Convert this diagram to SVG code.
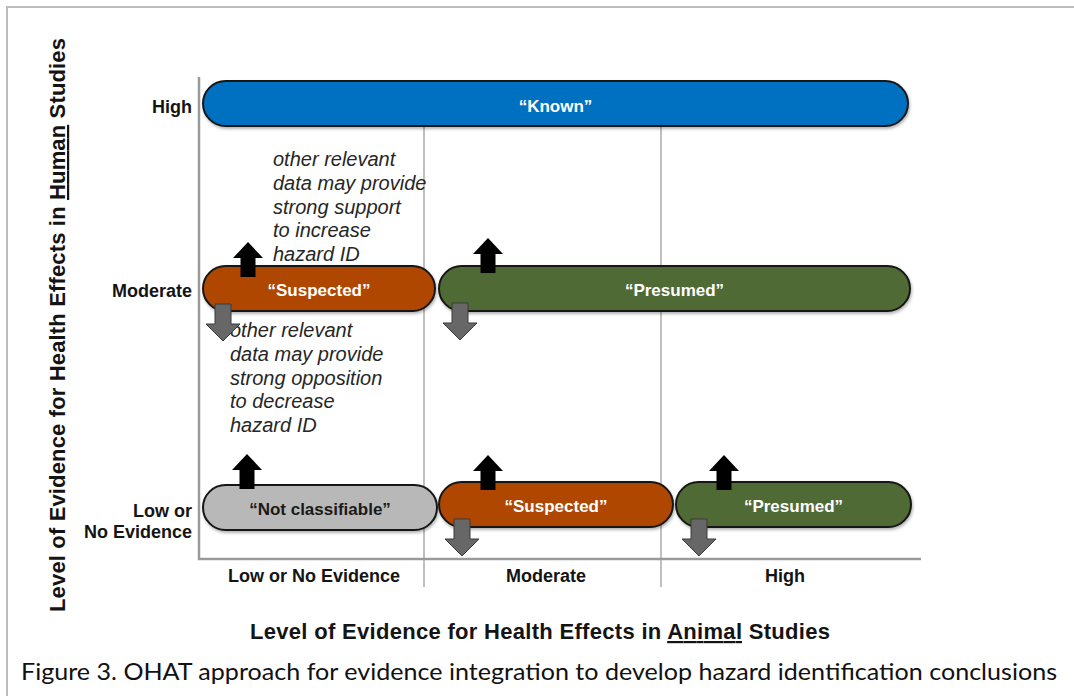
<svg xmlns="http://www.w3.org/2000/svg" width="1074" height="696" viewBox="0 0 1074 696">
  <style>
    .bar { stroke: #151515; stroke-width: 2; filter: url(#shadow); }
    .lbl { font-family: "Liberation Sans", Arial, sans-serif; font-weight: bold; font-size: 17px; text-anchor: middle; fill: #ffffff; }
    .lbl.dark { fill: #1a1a1a; }
    .axl { font-family: "Liberation Sans", Arial, sans-serif; font-weight: bold; font-size: 18px; fill: #141414; }
    .ttl { font-family: "Liberation Sans", Arial, sans-serif; font-weight: bold; font-size: 22px; fill: #141414; text-anchor: middle; }
    .note { font-family: "Liberation Sans", Arial, sans-serif; font-style: italic; font-size: 20px; fill: #262626; }
    .grid { stroke: #ababab; stroke-width: 1.5; fill: none; }
    .axis { stroke: #9a9a9a; stroke-width: 2.5; fill: none; }
    .up { fill: #000000; }
    .down { fill: #676767; stroke: #3a3a3a; stroke-width: 1; }
  </style>
  <defs>
    <filter id="shadow" x="-5%" y="-30%" width="110%" height="170%">
      <feDropShadow dx="1" dy="2" stdDeviation="1.5" flood-color="#000" flood-opacity="0.3"/>
    </filter>
    <!-- up arrow, tip at origin -->
    <path id="arrowUp" d="M0,0 L15,16 L7.5,16 L7.5,35 L-7.5,35 L-7.5,16 L-15,16 Z"/>
    <!-- down arrow, tip at origin -->
    <path id="arrowDown" d="M0,0 L-17,-17 L-8,-17 L-8,-37 L8,-37 L8,-17 L17,-17 Z"/>
  </defs>

  <rect width="1074" height="696" fill="#ffffff"/>

  <!-- page frame -->
  <path d="M7,696 L7,7 L1074,7" fill="none" stroke="#bdbdbd" stroke-width="2"/>

  <!-- grid and axes -->
  <g id="axes">
    <line class="grid" x1="424" y1="120" x2="424" y2="587"/>
    <line class="grid" x1="661" y1="120" x2="661" y2="587"/>
    <path class="axis" d="M199,77 L199,559 L921,559"/>
  </g>

  <!-- axis tick labels -->
  <g id="y-labels">
    <text class="axl" x="192" y="113" text-anchor="end">High</text>
    <text class="axl" x="192" y="297" text-anchor="end">Moderate</text>
    <text class="axl" x="192" y="517" text-anchor="end">Low or</text>
    <text class="axl" x="192" y="538" text-anchor="end">No Evidence</text>
  </g>
  <g id="x-labels">
    <text class="axl" x="314" y="582" text-anchor="middle">Low or No Evidence</text>
    <text class="axl" x="546" y="582" text-anchor="middle">Moderate</text>
    <text class="axl" x="785" y="582" text-anchor="middle">High</text>
  </g>

  <!-- axis titles -->
  <text class="ttl" transform="translate(65,325) rotate(-90)" textLength="574">Level of Evidence for Health Effects in <tspan text-decoration="underline">Human</tspan> Studies</text>
  <text class="ttl" x="540" y="639" textLength="580">Level of Evidence for Health Effects in <tspan text-decoration="underline">Animal</tspan> Studies</text>

  <!-- annotations -->
  <g id="note-increase">
    <text class="note" x="273" y="166">other relevant</text>
    <text class="note" x="273" y="190">data may provide</text>
    <text class="note" x="273" y="213.5">strong support</text>
    <text class="note" x="273" y="237">to increase</text>
    <text class="note" x="273" y="261">hazard ID</text>
  </g>
  <g id="note-decrease">
    <text class="note" x="230" y="337">other relevant</text>
    <text class="note" x="230" y="361">data may provide</text>
    <text class="note" x="230" y="385">strong opposition</text>
    <text class="note" x="230" y="408">to decrease</text>
    <text class="note" x="230" y="432">hazard ID</text>
  </g>

  <!-- conclusion bars -->
  <g id="known">
    <rect class="bar" x="203" y="81" width="705" height="45" rx="22.5" fill="#0070c0"/>
    <text class="lbl" x="555.5" y="112">“Known”</text>
  </g>
  <g id="suspected-moderate">
    <rect class="bar" x="203" y="266" width="232" height="45" rx="22.5" fill="#b04700"/>
    <text class="lbl" x="319" y="296">“Suspected”</text>
  </g>
  <g id="presumed-moderate">
    <rect class="bar" x="439" y="266" width="471" height="45" rx="22.5" fill="#4f6b36"/>
    <text class="lbl" x="674.5" y="296">“Presumed”</text>
  </g>
  <g id="not-classifiable">
    <rect class="bar" x="203" y="485" width="234" height="45" rx="22.5" fill="#b8b8b8"/>
    <text class="lbl dark" x="320" y="515">“Not classifiable”</text>
  </g>
  <g id="suspected-low">
    <rect class="bar" x="439" y="482" width="234" height="45" rx="22.5" fill="#b04700"/>
    <text class="lbl" x="556" y="512">“Suspected”</text>
  </g>
  <g id="presumed-low">
    <rect class="bar" x="676" y="482" width="235" height="45" rx="22.5" fill="#4f6b36"/>
    <text class="lbl" x="793.5" y="512">“Presumed”</text>
  </g>

  <!-- up / down indicator arrows -->
  <g id="connectors">
    <use href="#arrowUp" class="up" x="248" y="242"/>
    <use href="#arrowUp" class="up" x="488" y="238"/>
    <use href="#arrowUp" class="up" x="247" y="454"/>
    <use href="#arrowUp" class="up" x="488" y="455"/>
    <use href="#arrowUp" class="up" x="724" y="455"/>
    <use href="#arrowDown" class="down" x="223" y="341"/>
    <use href="#arrowDown" class="down" x="460" y="340"/>
    <use href="#arrowDown" class="down" x="462" y="556"/>
    <use href="#arrowDown" class="down" x="699" y="556"/>
  </g>

  <!-- caption -->
  <text x="21" y="680" font-family="Lato, 'Open Sans', sans-serif" font-size="24" fill="#111111" textLength="1036" lengthAdjust="spacingAndGlyphs">Figure 3. OHAT approach for evidence integration to develop hazard identification conclusions</text>
</svg>
